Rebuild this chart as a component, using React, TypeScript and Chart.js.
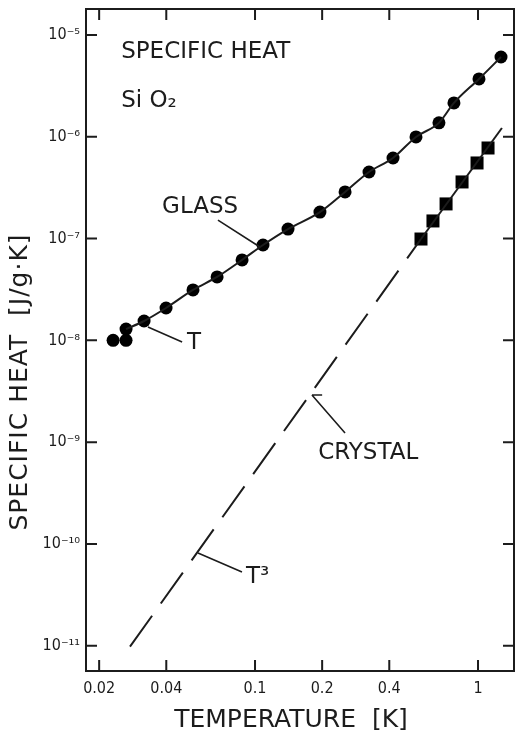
import { useEffect, useRef } from "react";
import { Chart, registerables } from "chart.js";
Chart.register(...registerables);

// Glass data points (temperature [K], specific heat [J/g·K])
const glassTemp = [0.0231, 0.0264, 0.0264, 0.0318, 0.0399, 0.0527, 0.0676, 0.0875, 0.1086, 0.1406, 0.1955, 0.2534, 0.3245, 0.4158, 0.527, 0.668, 0.78, 1.01, 1.268];
const glassHeat = [1.0e-8, 1.0e-8, 1.29e-8, 1.55e-8, 2.08e-8, 3.13e-8, 4.2e-8, 6.17e-8, 8.65e-8, 1.24e-7, 1.82e-7, 2.87e-7, 4.51e-7, 6.19e-7, 9.96e-7, 1.37e-6, 2.15e-6, 3.7e-6, 6.08e-6];
// Glass curve (drawn through the measured points)
const glassLineTemp = [0.0264, 0.0318, 0.0399, 0.0527, 0.0676, 0.0875, 0.1086, 0.1406, 0.1955, 0.2534, 0.3245, 0.4158, 0.527, 0.668, 0.78, 1.01, 1.268];
const glassLineHeat = [1.29e-8, 1.55e-8, 2.08e-8, 3.13e-8, 4.2e-8, 6.17e-8, 8.65e-8, 1.24e-7, 1.82e-7, 2.87e-7, 4.51e-7, 6.19e-7, 9.96e-7, 1.37e-6, 2.15e-6, 3.7e-6, 6.08e-6];
// Crystal data points
const crystalTemp = [0.555, 0.628, 0.719, 0.848, 0.99, 1.109];
const crystalHeat = [9.9e-8, 1.49e-7, 2.19e-7, 3.6e-7, 5.53e-7, 7.76e-7];
// Crystal solid line through the points
const crystalLineTemp = [0.555, 1.28];
const crystalLineHeat = [9.9e-8, 1.22e-6];
// T^3 extrapolation (dashed)
const debyeTemp = [0.0275, 0.555];
const debyeHeat = [9.8e-12, 9.9e-8];

// Axes
const xMin = 0.01746;
const xMax = 1.45;
const yMin = 5.65e-12;
const yMax = 1.8e-5;
const xTickValues = [0.02, 0.04, 0.1, 0.2, 0.4, 1];
const xTickLabels = ["0.02", "0.04", "0.1", "0.2", "0.4", "1"];
const yTickValues = [1e-11, 1e-10, 1e-9, 1e-8, 1e-7, 1e-6, 1e-5];
const yTickLabels = ["10⁻¹¹", "10⁻¹⁰", "10⁻⁹", "10⁻⁸", "10⁻⁷", "10⁻⁶", "10⁻⁵"];

const xTitle = "TEMPERATURE  [K]";
const yTitle = "SPECIFIC HEAT  [J/g·K]";

// Annotation labels anchored in data coordinates
const labelTexts = ["SPECIFIC HEAT", "Si O₂", "GLASS", "T", "CRYSTAL", "T³"];
const labelTemp = [0.0251, 0.0251, 0.0383, 0.0532, 0.192, 0.0911];
const labelHeat = [6.8e-6, 2.25e-6, 2.04e-7, 9.4e-9, 7.83e-10, 4.74e-11];
const labelAlign = ["left", "left", "left", "center", "left", "left"];

// Leader lines [t1, c1, t2, c2]
const leaderLines = [
  [0.0682, 1.52e-7, 0.1052, 8.26e-8],
  [0.0331, 1.355e-8, 0.0471, 9.64e-9],
  [0.18, 2.91e-9, 0.2533, 1.23e-9],
  [0.18, 2.91e-9, 0.2, 2.91e-9],
  [0.0555, 8.17e-11, 0.0874, 5.31e-11],
];

const INK = "#1c1c1c";
const TICK_FONT = "'DejaVu Sans Condensed', 'DejaVu Sans', sans-serif";
const TEXT_FONT = "'DejaVu Sans', sans-serif";

const decorPlugin = {
  id: "decor",
  beforeDatasetsDraw(chart: any) {
    const { ctx, chartArea, scales } = chart;
    const { left, right, top, bottom } = chartArea;
    ctx.save();
    ctx.strokeStyle = INK;
    ctx.lineWidth = 2;
    ctx.strokeRect(left, top, right - left, bottom - top);
    const tl = 11;
    ctx.beginPath();
    for (const v of xTickValues) {
      const x = scales.x.getPixelForValue(v);
      ctx.moveTo(x, bottom);
      ctx.lineTo(x, bottom - tl);
      ctx.moveTo(x, top);
      ctx.lineTo(x, top + tl);
    }
    for (const v of yTickValues) {
      const y = scales.y.getPixelForValue(v);
      ctx.moveTo(left, y);
      ctx.lineTo(left + tl, y);
      ctx.moveTo(right, y);
      ctx.lineTo(right - tl, y);
    }
    ctx.stroke();
    ctx.restore();
  },
  afterDatasetsDraw(chart: any) {
    const { ctx, chartArea, scales } = chart;
    ctx.save();
    ctx.strokeStyle = INK;
    ctx.lineWidth = 1.6;
    ctx.beginPath();
    for (const [t1, c1, t2, c2] of leaderLines) {
      ctx.moveTo(scales.x.getPixelForValue(t1), scales.y.getPixelForValue(c1));
      ctx.lineTo(scales.x.getPixelForValue(t2), scales.y.getPixelForValue(c2));
    }
    ctx.stroke();
    ctx.fillStyle = INK;
    ctx.textBaseline = "middle";
    ctx.font = `23px ${TEXT_FONT}`;
    labelTexts.forEach((txt, i) => {
      ctx.textAlign = labelAlign[i] as CanvasTextAlign;
      ctx.fillText(txt, scales.x.getPixelForValue(labelTemp[i]), scales.y.getPixelForValue(labelHeat[i]));
    });
    // axis titles
    ctx.textAlign = "center";
    ctx.font = `25px ${TEXT_FONT}`;
    const cx = (chartArea.left + chartArea.right) / 2 - 9;
    ctx.fillText(xTitle, cx, chartArea.bottom + 49);
    ctx.save();
    ctx.translate(20, (chartArea.top + chartArea.bottom) / 2 + 42);
    ctx.rotate(-Math.PI / 2);
    ctx.font = `25px ${TEXT_FONT}`;
    (ctx as any).letterSpacing = "1px";
    ctx.fillText(yTitle, 0, 0);
    ctx.restore();
    ctx.restore();
  },
};

const zeroPadding = (s: any) => {
  s.paddingLeft = 0;
  s.paddingRight = 0;
  s.paddingTop = 0;
  s.paddingBottom = 0;
};

export default function App() {
  const ref = useRef<HTMLCanvasElement>(null);
  useEffect(() => {
    document.body.style.margin = "0";
    const pts = (xs: number[], ys: number[]) => xs.map((x, i) => ({ x, y: ys[i] }));
    const chart = new Chart(ref.current!, {
      type: "scatter",
      data: {
        datasets: [
          {
            data: pts(debyeTemp, debyeHeat),
            showLine: true,
            borderColor: INK,
            borderWidth: 2,
            borderDash: [38, 15],
            pointRadius: 0,
          },
          {
            data: pts(crystalLineTemp, crystalLineHeat),
            showLine: true,
            borderColor: INK,
            borderWidth: 2,
            pointRadius: 0,
          },
          {
            data: pts(glassLineTemp, glassLineHeat),
            showLine: true,
            borderColor: INK,
            borderWidth: 2,
            tension: 0.4,
            cubicInterpolationMode: "monotone",
            pointRadius: 0,
          },
          {
            data: pts(glassTemp, glassHeat),
            showLine: false,
            pointStyle: "circle",
            pointRadius: 6.5,
            backgroundColor: "#000",
            borderColor: "#000",
            borderWidth: 0,
          },
          {
            data: pts(crystalTemp, crystalHeat),
            showLine: false,
            pointStyle: "rect",
            pointRadius: 9.2,
            backgroundColor: "#000",
            borderColor: "#000",
            borderWidth: 0,
          },
        ],
      } as any,
      options: {
        animation: false,
        responsive: false,
        events: [],
        layout: { autoPadding: false, padding: { left: 0, right: 2, top: 9, bottom: 0 } },
        plugins: { legend: { display: false }, tooltip: { enabled: false } },
        scales: {
          x: {
            type: "logarithmic",
            min: xMin,
            max: xMax,
            afterBuildTicks: (s: any) => {
              s.ticks = xTickValues.map((v) => ({ value: v }));
            },
            afterFit: (s: any) => {
              s.height = 65;
              zeroPadding(s);
            },
            grid: { display: false, drawTicks: false },
            border: { display: false },
            ticks: {
              callback: (_v: any, i: number) => xTickLabels[i],
              autoSkip: false,
              maxRotation: 0,
              minRotation: 0,
              padding: 8,
              color: INK,
              font: { family: TICK_FONT, size: 16 },
            },
          },
          y: {
            type: "logarithmic",
            min: yMin,
            max: yMax,
            afterBuildTicks: (s: any) => {
              s.ticks = yTickValues.map((v) => ({ value: v }));
            },
            afterFit: (s: any) => {
              s.width = 86;
              zeroPadding(s);
            },
            grid: { display: false, drawTicks: false },
            border: { display: false },
            ticks: {
              callback: (_v: any, i: number) => yTickLabels[i],
              autoSkip: false,
              padding: 6,
              color: INK,
              font: { family: TICK_FONT, size: 16 },
            },
          },
        },
      } as any,
      plugins: [decorPlugin],
    });
    return () => chart.destroy();
  }, []);
  return (
    <div style={{ position: "fixed", left: 0, top: 0, width: 516, height: 736, background: "#fff" }}>
      <canvas ref={ref} width={516} height={736} style={{ display: "block" }} />
    </div>
  );
}
